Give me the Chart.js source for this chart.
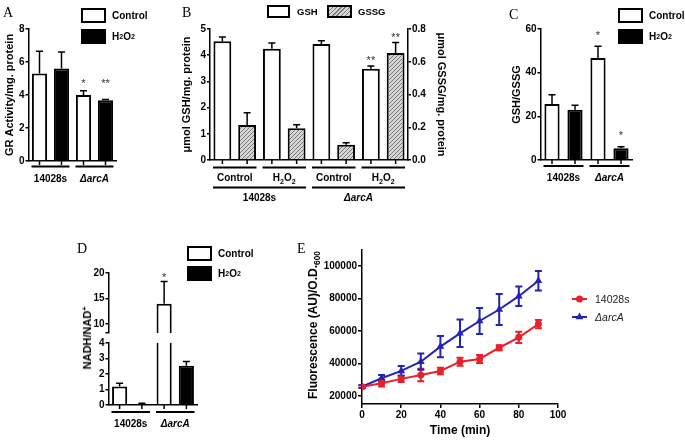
<!DOCTYPE html>
<html><head><meta charset="utf-8">
<script src="https://cdn.jsdelivr.net/npm/chart.js@4"></script>
<style>
html,body{margin:0;padding:0;background:#fff;}
#fig{position:relative;width:685px;height:442px;overflow:hidden;background:#fff;font-family:"Liberation Sans",Arial,sans-serif;color:#000;}
canvas{position:absolute;}
.lt{position:absolute;font-family:"Liberation Serif","Times New Roman",serif;font-size:14px;line-height:14px;height:14px;}
.leg{position:absolute;display:flex;align-items:center;height:15px;font-weight:bold;font-size:10px;white-space:nowrap;}
.box{display:inline-block;box-sizing:border-box;width:25px;height:15px;border:2px solid #000;background:#fff;margin-right:6px;}
.box.blk{background:#000;}
.box.hat{background:repeating-linear-gradient(-45deg,#7a7a7a 0 1px,#d6d6d6 1px 3px);}
sub{font-size:7px;vertical-align:-2px;line-height:0;}
sup{font-size:7px;vertical-align:4px;line-height:0;}
.rot{position:absolute;transform:translate(-50%,-50%) rotate(-90deg);white-space:nowrap;font-weight:bold;font-size:11px;line-height:12px;}
</style></head>
<body><div id="fig"></div>
<script>
// ================= DATA =================
// Panel A: GR activity
const groupsA = ['14028s', 'ΔarcA'];
const grControl = [5.3, 4.0];
const grControlErr = [1.35, 0.26];
const grH2O2 = [5.6, 3.68];
const grH2O2Err = [1.0, 0.05];
const grStarsControl = ['', '*'];
const grStarsH2O2 = ['', '**'];
const ticksA = [0, 2, 4, 6, 8];

// Panel B: GSH / GSSG
const conditionsB = ['Control', 'H₂O₂', 'Control', 'H₂O₂'];
const strainsB = ['14028s', 'ΔarcA'];
const gsh = [4.53, 4.25, 4.43, 3.48];
const gshErr = [0.16, 0.22, 0.12, 0.11];
const gssg = [0.214, 0.194, 0.093, 0.653];
const gssgErr = [0.075, 0.022, 0.013, 0.064];
const gshStars = ['', '', '', '**'];
const gssgStars = ['', '', '', '**'];
const ticksB = [0, 1, 2, 3, 4, 5];
const ticksB2 = [0, 0.2, 0.4, 0.6, 0.8];

// Panel C: GSH/GSSG ratio
const groupsC = ['14028s', 'ΔarcA'];
const ratioControl = [25.6, 46.7];
const ratioControlErr = [4.3, 5.4];
const ratioH2O2 = [23.0, 5.4];
const ratioH2O2Err = [2.1, 0.7];
const ratioStarsControl = ['', '*'];
const ratioStarsH2O2 = ['', '*'];
const ticksC = [0, 20, 40, 60];

// Panel D: NADH/NAD+
const groupsD = ['14028s', 'ΔarcA'];
const nadControl = [1.19, 13.95];
const nadControlErr = [0.21, 4.4];
const nadH2O2 = [0.065, 2.53];
const nadH2O2Err = [0.045, 0.28];
const nadStarsControl = ['', '*'];
const nadStarsH2O2 = ['', ''];
const ticksDlow = [0, 1, 2, 3, 4];
const ticksDhigh = [8.2, 10, 15, 20];

// Panel E: fluorescence over time
const timeMin = [0, 10, 20, 30, 40, 50, 60, 70, 80, 90];
const fluorWT = [25700, 27800, 30500, 32900, 35400, 41100, 42800, 49700, 56100, 64300];
const fluorWTErr = [800, 2000, 2000, 3800, 2000, 2500, 2500, 1500, 3500, 2500];
const fluorArcA = [25700, 30900, 35400, 41100, 50400, 58600, 66200, 73300, 81500, 91000];
const fluorArcAErr = [800, 2000, 3000, 5000, 6500, 8500, 8000, 9500, 6000, 6000];
const ticksEx = [0, 20, 40, 60, 80, 100];
const ticksEy = [20000, 40000, 60000, 80000, 100000];

// ================= HELPERS =================
const FONT = "'Liberation Sans', Arial, sans-serif";
Chart.defaults.font.family = FONT;
Chart.defaults.color = '#000';
const RED = '#e8202a', BLUE = '#2323b4';
const fig = document.getElementById('fig');

function mkCanvas(box) {
  const c = document.createElement('canvas');
  c.width = box.w; c.height = box.h;
  c.style.left = box.x + 'px'; c.style.top = box.y + 'px';
  c.style.width = box.w + 'px'; c.style.height = box.h + 'px';
  fig.appendChild(c);
  return c;
}
function html(tag, cls, style, inner) {
  const d = document.createElement(tag);
  if (cls) d.className = cls;
  Object.assign(d.style, style);
  d.innerHTML = inner;
  fig.appendChild(d);
  return d;
}
function drawRich(ctx, text, x, y, size, weight, italic, align) {
  const subs = '₀₁₂₃₄₅₆₇₈₉';
  const segs = [];
  for (const ch of text) {
    const i = subs.indexOf(ch), sub = i >= 0, c = sub ? String(i) : ch;
    if (segs.length && segs[segs.length - 1].sub === sub) segs[segs.length - 1].t += c;
    else segs.push({ t: c, sub });
  }
  const f = s => `${italic ? 'italic ' : ''}${weight} ${s}px ${FONT}`;
  let total = 0;
  segs.forEach(s => { ctx.font = f(s.sub ? size * 0.7 : size); s.w = ctx.measureText(s.t).width; total += s.w; });
  let cx = align === 'left' ? x : (align === 'right' ? x - total : x - total / 2);
  ctx.textAlign = 'left'; ctx.textBaseline = 'alphabetic';
  segs.forEach(s => {
    ctx.font = f(s.sub ? size * 0.7 : size);
    ctx.fillText(s.t, cx, y + size * 0.36 + (s.sub ? size * 0.25 : 0));
    cx += s.w;
  });
}
function valOf(ds, i) { const d = ds.data[i]; return (d !== null && typeof d === 'object') ? d.y : d; }
function drawErrors(chart, o) {
  const ctx = chart.ctx, A = chart.chartArea;
  ctx.save();
  ctx.beginPath(); ctx.rect(A.left - 10, A.top - 1, A.right - A.left + 20, A.bottom - A.top + 1); ctx.clip();
  chart.data.datasets.forEach((ds, di) => {
    if (!ds.errors) return;
    const meta = chart.getDatasetMeta(di), ys = chart.scales[meta.yAxisID];
    ctx.strokeStyle = ds.errorColor || '#000';
    ctx.lineWidth = o.errWidth || 1.5;
    meta.data.forEach((el, i) => {
      const v = valOf(ds, i), e = ds.errors[i];
      if (v == null || e == null) return;
      const yt = ys.getPixelForValue(v + e);
      const yb = o.twoSided ? ys.getPixelForValue(v - e) : el.y;
      const hw = o.cap || 3.5;
      ctx.beginPath();
      ctx.moveTo(el.x, yb); ctx.lineTo(el.x, yt);
      ctx.moveTo(el.x - hw, yt); ctx.lineTo(el.x + hw, yt);
      if (o.twoSided) { ctx.moveTo(el.x - hw, yb); ctx.lineTo(el.x + hw, yb); }
      ctx.stroke();
    });
  });
  ctx.restore();
}
function drawStars(chart, o) {
  const ctx = chart.ctx, A = chart.chartArea, sets = chart.data.datasets;
  const capY = (k, i) => {
    const d = sets[k], ys = chart.scales[chart.getDatasetMeta(k).yAxisID];
    return ys.getPixelForValue(valOf(d, i) + ((d.errors && d.errors[i]) || 0));
  };
  ctx.save(); ctx.fillStyle = '#333'; ctx.font = `11px ${FONT}`;
  ctx.textAlign = 'center'; ctx.textBaseline = 'alphabetic';
  sets.forEach((ds, di) => {
    if (!ds.stars) return;
    chart.getDatasetMeta(di).data.forEach((el, i) => {
      const s = ds.stars[i]; if (!s) return;
      const top = o.starGroup ? Math.min(...sets.map((_, k) => capY(k, i))) : capY(di, i);
      if (top < A.top - 2) return;
      ctx.fillText(s, el.x, top - o.starGap + 6.4);
    });
  });
  ctx.restore();
}
function drawBarTicks(chart) {
  const ctx = chart.ctx, b = chart.chartArea.bottom;
  ctx.save(); ctx.strokeStyle = '#000'; ctx.lineWidth = 1.5;
  chart.data.datasets.forEach((ds, di) => chart.getDatasetMeta(di).data.forEach(el => {
    ctx.beginPath(); ctx.moveTo(el.x, b); ctx.lineTo(el.x, b + 4); ctx.stroke();
  }));
  ctx.restore();
}
function drawLevels(chart, o) {
  const ctx = chart.ctx, xs = chart.scales.x, b = chart.chartArea.bottom;
  const w = (xs.right - xs.left) / chart.data.labels.length;
  ctx.save(); ctx.strokeStyle = '#000'; ctx.fillStyle = '#000'; ctx.lineWidth = 2;
  o.levels.forEach(lv => lv.labels.forEach((lab, k) => {
    const x0 = xs.getPixelForValue(k * lv.span) - w / 2, x1 = x0 + lv.span * w;
    ctx.beginPath(); ctx.moveTo(x0 + lv.inset, b + lv.line); ctx.lineTo(x1 - lv.inset, b + lv.line); ctx.stroke();
    drawRich(ctx, lab, (x0 + x1) / 2, b + lv.text, 10, 'bold', (o.italic || []).includes(lab), 'center');
  }));
  ctx.restore();
}
function drawMarker(ctx, style, x, y, r) {
  ctx.beginPath();
  if (style === 'triangle') {
    ctx.moveTo(x, y - r); ctx.lineTo(x + r * 0.866, y + r * 0.5); ctx.lineTo(x - r * 0.866, y + r * 0.5); ctx.closePath();
  } else { ctx.arc(x, y, r, 0, Math.PI * 2); }
  ctx.fill();
}
function drawLegend(chart, L) {
  const ctx = chart.ctx;
  chart.data.datasets.forEach((ds, di) => {
    const y = L.y + di * L.dy;
    ctx.save(); ctx.strokeStyle = ds.borderColor; ctx.fillStyle = ds.backgroundColor; ctx.lineWidth = 2;
    ctx.beginPath(); ctx.moveTo(L.x, y); ctx.lineTo(L.x + L.len, y); ctx.stroke();
    drawMarker(ctx, ds.pointStyle, L.x + L.len / 2, y, ds.pointRadius);
    ctx.fillStyle = '#222';
    drawRich(ctx, ds.label, L.x + L.len + 8, y, 10.5, 'normal', (L.italic || []).includes(ds.label), 'left');
    ctx.restore();
  });
}
function drawYTitle(chart, T) {
  const ctx = chart.ctx, A = chart.chartArea;
  ctx.save(); ctx.fillStyle = '#000';
  ctx.translate(T.x, (A.top + A.bottom) / 2 + (T.dy || 0));
  ctx.rotate(-Math.PI / 2);
  drawRich(ctx, T.text, 0, 0, T.size, 'bold', false, 'center');
  ctx.restore();
}
function makeDeco(o) {
  return {
    id: 'deco',
    beforeDatasetsDraw(chart) { if (o.errBefore) drawErrors(chart, o); },
    afterDatasetsDraw(chart) { if (!o.errBefore) drawErrors(chart, o); if (o.starGap != null) drawStars(chart, o); },
    afterDraw(chart) {
      if (o.barTicks) drawBarTicks(chart);
      if (o.levels) drawLevels(chart, o);
      if (o.legend) drawLegend(chart, o.legend);
      if (o.yTitle) drawYTitle(chart, o.yTitle);
    }
  };
}
function axisY(min, max, tickVals, title, width, opt) {
  opt = opt || {};
  return {
    type: 'linear', position: opt.position || 'left', min, max,
    afterFit: s => { s.width = width; },
    afterBuildTicks: s => { s.ticks = tickVals.map(v => ({ value: v })); },
    border: { display: true, color: '#000', width: 1.5 },
    grid: { drawOnChartArea: false, drawTicks: true, tickLength: opt.tickLength || 3, color: '#000', lineWidth: 1.5 },
    ticks: { font: { size: 10, weight: 'bold' }, color: '#000', padding: 1, callback: opt.fmt || (v => String(v)) },
    title: { display: !!title, text: title || '', font: { size: opt.titleSize || 11, weight: 'bold' }, color: '#000', padding: { top: 3, bottom: 0 } }
  };
}
function axisXcat(height, border) {
  return {
    type: 'category', offset: true,
    afterFit: s => { s.height = height; },
    border: { display: border !== false, color: '#000', width: 1.5 },
    grid: { display: false }, ticks: { display: false }
  };
}
function barSet(label, data, errors, stars, fill, barPct, extra) {
  return Object.assign({ label, data, errors, stars, backgroundColor: fill, borderColor: '#000', borderWidth: 2,
    barPercentage: barPct, categoryPercentage: 1, clip: 0 }, extra || {});
}
function baseOpts(box, area, scales, rightAxis) {
  return {
    responsive: false, animation: false, devicePixelRatio: 1,
    layout: { padding: { left: 0, top: area.t - box.y, right: rightAxis ? 0 : box.x + box.w - area.r, bottom: 0 } },
    plugins: { legend: { display: false }, tooltip: { enabled: false } },
    scales
  };
}

// ================= PANEL A =================
(function () {
  const box = { x: 0, y: 0, w: 125, h: 195 }, area = { l: 28.5, r: 116.5, t: 29, b: 161 };
  new Chart(mkCanvas(box), {
    type: 'bar',
    data: { labels: groupsA, datasets: [
      barSet('Control', grControl, grControlErr, grStarsControl, '#fff', 0.69),
      barSet('H₂O₂', grH2O2, grH2O2Err, grStarsH2O2, '#000', 0.69)
    ] },
    options: baseOpts(box, area, {
      x: axisXcat(box.y + box.h - area.b),
      y: axisY(0, 8, ticksA, 'GR Activity/mg. protein', area.l - box.x)
    }),
    plugins: [makeDeco({ barTicks: true, starGap: 10, starGroup: true, italic: ['ΔarcA'],
      levels: [{ labels: groupsA, span: 1, line: 5.5, text: 17.5, inset: 3 }] })]
  });
})();

// ================= PANEL B =================
let hatchPattern;
(function () {
  const box = { x: 177, y: 0, w: 274, h: 205 }, area = { l: 210, r: 408, t: 29, b: 160 };
  const cv = mkCanvas(box);
  const t = document.createElement('canvas'); t.width = t.height = 4;
  const g = t.getContext('2d');
  g.fillStyle = '#d6d6d6'; g.fillRect(0, 0, 4, 4);
  g.strokeStyle = '#777'; g.lineWidth = 1;
  g.beginPath(); g.moveTo(0, 4); g.lineTo(4, 0); g.moveTo(-1, 1); g.lineTo(1, -1); g.moveTo(3, 5); g.lineTo(5, 3); g.stroke();
  hatchPattern = cv.getContext('2d').createPattern(t, 'repeat');
  new Chart(cv, {
    type: 'bar',
    data: { labels: conditionsB, datasets: [
      barSet('GSH', gsh, gshErr, gshStars, '#fff', 0.72, { yAxisID: 'y' }),
      barSet('GSSG', gssg, gssgErr, gssgStars, hatchPattern, 0.72, { yAxisID: 'y1' })
    ] },
    options: baseOpts(box, area, {
      x: axisXcat(box.y + box.h - area.b),
      y: axisY(0, 5, ticksB, 'μmol GSH/mg. protein', area.l - box.x),
      y1: axisY(0, 0.8, ticksB2, 'μmol GSSG/mg. protein', box.x + box.w - area.r, { position: 'right', fmt: v => v.toFixed(1) })
    }, true),
    plugins: [makeDeco({ barTicks: true, starGap: 8, italic: ['ΔarcA'],
      levels: [
        { labels: conditionsB, span: 1, line: 7.5, text: 17.5, inset: 3 },
        { labels: strainsB, span: 2, line: 27.5, text: 37.5, inset: 3 }
      ] })]
  });
})();

// ================= PANEL C =================
(function () {
  const box = { x: 507, y: 0, w: 133, h: 195 }, area = { l: 540.5, r: 632.5, t: 29, b: 160 };
  new Chart(mkCanvas(box), {
    type: 'bar',
    data: { labels: groupsC, datasets: [
      barSet('Control', ratioControl, ratioControlErr, ratioStarsControl, '#fff', 0.66),
      barSet('H₂O₂', ratioH2O2, ratioH2O2Err, ratioStarsH2O2, '#000', 0.66)
    ] },
    options: baseOpts(box, area, {
      x: axisXcat(box.y + box.h - area.b),
      y: axisY(0, 60, ticksC, 'GSH/GSSG', area.l - box.x)
    }),
    plugins: [makeDeco({ barTicks: true, starGap: 14, italic: ['ΔarcA'],
      levels: [{ labels: groupsC, span: 1, line: 6, text: 17.5, inset: 3 }] })]
  });
})();

// ================= PANEL D (broken axis: two stacked segments) =================
(function () {
  const sets = () => [
    barSet('Control', nadControl, nadControlErr, nadStarsControl, '#fff', 0.68),
    barSet('H₂O₂', nadH2O2, nadH2O2Err, nadStarsH2O2, '#000', 0.68)
  ];
  const boxL = { x: 80, y: 335, w: 125, h: 100 }, areaL = { l: 108.5, r: 197.5, t: 343, b: 405 };
  new Chart(mkCanvas(boxL), {
    type: 'bar',
    data: { labels: groupsD, datasets: sets() },
    options: baseOpts(boxL, areaL, {
      x: axisXcat(boxL.y + boxL.h - areaL.b),
      y: axisY(0, 4, ticksDlow, '', areaL.l - boxL.x)
    }),
    plugins: [makeDeco({ barTicks: true, starGap: 7, italic: ['ΔarcA'],
      levels: [{ labels: groupsD, span: 1, line: 7, text: 18, inset: 3 }] })]
  });
  const boxU = { x: 80, y: 258, w: 125, h: 85 }, areaU = { l: 108.5, r: 197.5, t: 273, b: 333 };
  new Chart(mkCanvas(boxU), {
    type: 'bar',
    data: { labels: groupsD, datasets: sets() },
    options: baseOpts(boxU, areaU, {
      x: axisXcat(boxU.y + boxU.h - areaU.b, false),
      y: axisY(8.2, 20, ticksDhigh, '', areaU.l - boxU.x, { fmt: v => (v % 5 === 0 ? String(v) : '') })
    }),
    plugins: [makeDeco({ starGap: 7 })]
  });
})();

// ================= PANEL E =================
(function () {
  const box = { x: 303, y: 240, w: 382, h: 202 }, area = { l: 362, r: 558, t: 250, b: 404 };
  const pts = arr => timeMin.map((t, i) => ({ x: t, y: arr[i] }));
  const tickStyle = { font: { size: 10, weight: 'bold' }, color: '#000' };
  new Chart(mkCanvas(box), {
    type: 'line',
    data: { datasets: [
      { label: '14028s', data: pts(fluorWT), errors: fluorWTErr, errorColor: RED, borderColor: RED, backgroundColor: RED,
        pointStyle: 'circle', pointRadius: 3.5, pointBorderWidth: 0, borderWidth: 2, tension: 0 },
      { label: 'ΔarcA', data: pts(fluorArcA), errors: fluorArcAErr, errorColor: BLUE, borderColor: BLUE, backgroundColor: BLUE,
        pointStyle: 'triangle', pointRadius: 4.5, pointBorderWidth: 0, borderWidth: 2, tension: 0 }
    ] },
    options: baseOpts(box, area, {
      x: {
        type: 'linear', min: 0, max: 100,
        afterFit: s => { s.height = box.y + box.h - area.b; },
        afterBuildTicks: s => { s.ticks = ticksEx.map(v => ({ value: v })); },
        border: { display: true, color: '#000', width: 1.5 },
        grid: { drawOnChartArea: false, drawTicks: true, tickLength: 4, color: '#000', lineWidth: 1.5 },
        ticks: Object.assign({ padding: 1 }, tickStyle),
        title: { display: true, text: 'Time (min)', font: { size: 12, weight: 'bold' }, color: '#000', padding: { top: 0, bottom: 4 } }
      },
      y: axisY(15000, 110000, ticksEy, '', area.l - box.x, { tickLength: 4 })
    }),
    plugins: [makeDeco({ errBefore: true, twoSided: true, errWidth: 2, cap: 3.5,
      yTitle: { text: 'Fluorescence (AU)/O.D.₆₀₀', x: 10, size: 12, dy: -2 },
      legend: { x: 269, y: 59, dy: 18, len: 15, italic: ['ΔarcA'] } })]
  });
})();

// ================= HTML TEXT: panel letters, legends, D axis title =================
[['A', 3, 6], ['B', 182, 6], ['C', 509, 8], ['D', 77, 242], ['E', 297, 242]].forEach(([t, x, y]) =>
  html('div', 'lt', { left: x + 'px', top: y + 'px' }, t));

function legendPair(x, y1, y2) {
  html('div', 'leg', { left: x + 'px', top: y1 + 'px' }, '<span class="box"></span>Control');
  html('div', 'leg', { left: x + 'px', top: y2 + 'px' }, '<span class="box blk"></span>H<sub>2</sub>O<sub>2</sub>');
}
legendPair(81, 8, 29);
legendPair(618, 8, 29);
legendPair(187, 246, 266);
html('div', 'leg', { left: '267px', top: '4px', fontSize: '9.5px' }, '<span class="box" style="width:23px;height:13px;margin-right:7px"></span>GSH');
html('div', 'leg', { left: '327px', top: '4px', fontSize: '9.5px' }, '<span class="box hat" style="width:25px;height:13px;margin-right:6px"></span>GSSG');
html('div', 'rot', { left: '87px', top: '338px' }, 'NADH/NAD<sup>+</sup>');
</script>
</body></html>
